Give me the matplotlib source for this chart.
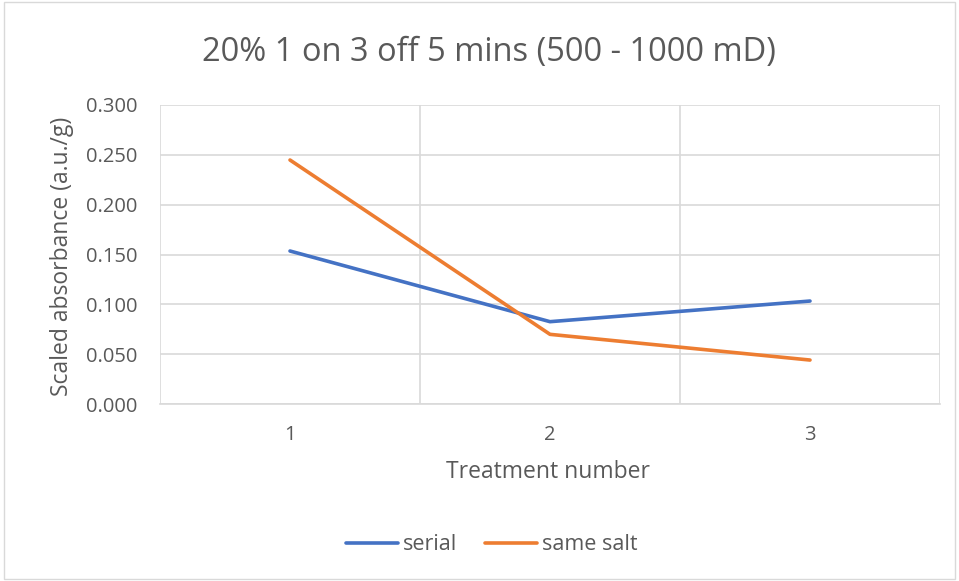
from matplotlib import pyplot as plt
from matplotlib.patches import Rectangle

# data
treatments = [1, 2, 3]
serial = [0.1535, 0.0826, 0.1033]
same_salt = [0.2448, 0.0699, 0.0441]
y_ticks = [0.0, 0.05, 0.10, 0.15, 0.20, 0.25, 0.30]

plt.rcParams['font.family'] = ['Open Sans', 'DejaVu Sans']
grey = '#595959'
grid_c = '#d9d9d9'

fig = plt.figure(figsize=(9.59, 5.81), dpi=100, facecolor='w')
# plot area in pixels: x 160..940, y 105..404
ax = fig.add_axes([160 / 959, 1 - 404 / 581, 780 / 959, 299 / 581])

ax.plot(treatments, serial, color='#4472c4', lw=2.6, solid_capstyle='round', label='serial')
ax.plot(treatments, same_salt, color='#ed7d31', lw=2.6, solid_capstyle='round', label='same salt')

ax.set_xlim(0.5, 3.5)
ax.set_ylim(0, 0.3)
ax.set_xticks(treatments)
ax.set_yticks(y_ticks)
ax.set_yticklabels(['%.3f' % v for v in y_ticks])
ax.set_xticks([0.5, 1.5, 2.5, 3.5], minor=True)
ax.grid(True, axis='y', color=grid_c, lw=1.2)
ax.grid(True, axis='x', which='minor', color=grid_c, lw=1.2)
ax.set_axisbelow(True)
for s in ax.spines.values():
    s.set_visible(False)
ax.spines['bottom'].set_visible(True)
ax.spines['bottom'].set_color(grid_c)
ax.spines['bottom'].set_linewidth(1.2)
ax.tick_params(which='both', length=0, colors=grey, labelsize=14.5)
ax.tick_params(axis='y', pad=16)
ax.tick_params(axis='x', pad=15)

fig.text(548 / 959, 1 - 472 / 581, 'Treatment number', color=grey, fontsize=16.5,
         ha='center', va='center')
fig.text(62 / 959, 1 - 256 / 581, 'Scaled absorbance (a.u./g)', color=grey, fontsize=16.5,
         ha='center', va='center', rotation=90)
fig.text(489 / 959, 1 - 52 / 581, '20% 1 on 3 off 5 mins (500 - 1000 mD)', color=grey,
         fontsize=23.5, ha='center', va='center')

fig.legend(loc='center', bbox_to_anchor=(492 / 959, 1 - 545 / 581), ncol=2, frameon=False,
           fontsize=15.5, labelcolor=grey, handlelength=2.4, columnspacing=1.3, handletextpad=0.25)

fig.patches.append(Rectangle((0.004, 0.004), 0.992, 0.992, transform=fig.transFigure,
                             fill=False, edgecolor=grid_c, lw=1))

fig.savefig('out.png', dpi=100)
